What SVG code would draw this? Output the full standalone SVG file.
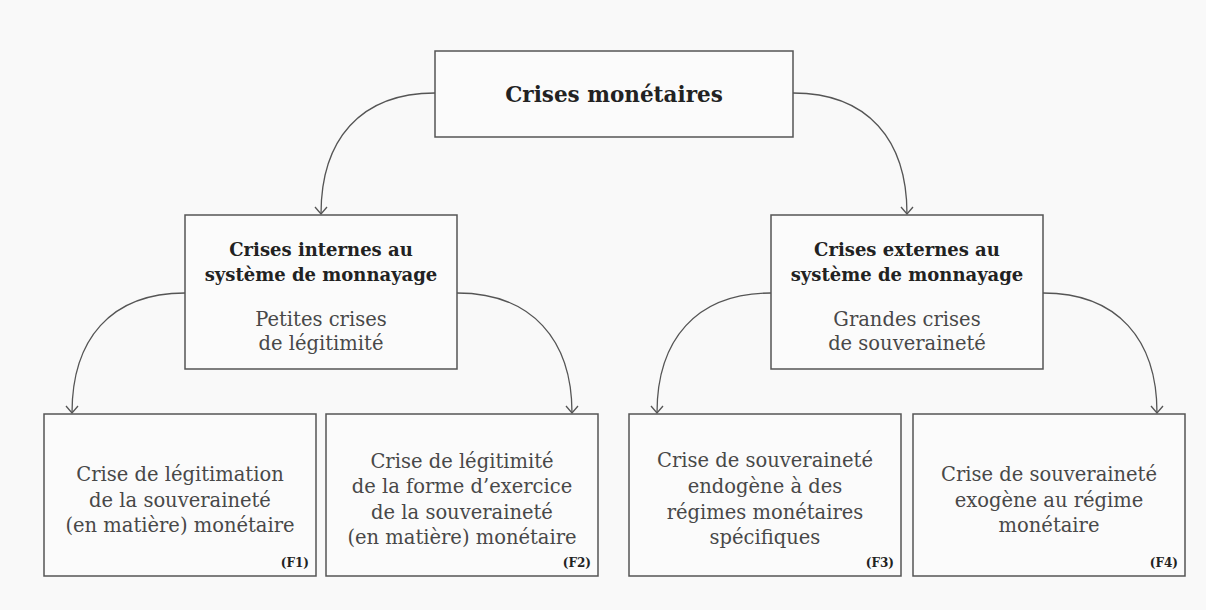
<svg xmlns="http://www.w3.org/2000/svg" width="1206" height="610" viewBox="0 0 1206 610">
<defs>
<style>
.box{fill:#fbfbfb;stroke:#555;stroke-width:1.5}
.t{font-family:"DejaVu Serif","Liberation Serif",serif;text-anchor:middle}
.b{font-weight:bold;fill:#222}
.l{fill:#484848;font-size:19.5px}
.h{font-size:19.5px}
.f{font-family:"DejaVu Serif","Liberation Serif",serif;font-weight:bold;font-size:12px;fill:#222;text-anchor:end}
.c{fill:none;stroke:#555;stroke-width:1.3}
</style>
<marker id="arr" viewBox="0 0 14 14" refX="13" refY="7" markerWidth="14" markerHeight="14" markerUnits="userSpaceOnUse" orient="auto">
<path d="M6,1 L13,7 L6,13" fill="none" stroke="#555" stroke-width="1.3"/>
</marker>
</defs>
<rect width="1206" height="610" fill="#f9f9f9"/>
<g id="connectors">
<path class="c" marker-end="url(#arr)" d="M435,93 C360,93 321,140 321,214"/>
<path class="c" marker-end="url(#arr)" d="M793,93 C868,93 907,140 907,214"/>
<path class="c" marker-end="url(#arr)" d="M185,293 C110,293 72,340 72,413"/>
<path class="c" marker-end="url(#arr)" d="M457,293 C532,293 572,340 572,413"/>
<path class="c" marker-end="url(#arr)" d="M771,293 C696,293 657,340 657,413"/>
<path class="c" marker-end="url(#arr)" d="M1043,293 C1118,293 1157,340 1157,413"/>
</g>
<g id="root">
<rect class="box" x="435" y="51" width="358" height="86"/>
<text class="t b" x="614" y="102" font-size="21.5">Crises monétaires</text>
</g>
<g id="internes">
<rect class="box" x="185" y="215" width="272" height="154"/>
<text class="t b" x="321" y="256" font-size="18">Crises internes au</text>
<text class="t b" x="321" y="281" font-size="18">système de monnayage</text>
<text class="t l" x="321" y="326">Petites crises</text>
<text class="t l" x="321" y="350">de légitimité</text>
</g>
<g id="externes">
<rect class="box" x="771" y="215" width="272" height="154"/>
<text class="t b" x="907" y="256" font-size="18">Crises externes au</text>
<text class="t b" x="907" y="281" font-size="18">système de monnayage</text>
<text class="t l" x="907" y="326">Grandes crises</text>
<text class="t l" x="907" y="350">de souveraineté</text>
</g>
<g id="f1">
<rect class="box" x="44" y="414" width="272" height="162"/>
<text class="t l h" x="180" y="481">Crise de légitimation</text>
<text class="t l h" x="180" y="507">de la souveraineté</text>
<text class="t l h" x="180" y="532">(en matière) monétaire</text>
<text class="f" x="309" y="567">(F1)</text>
</g>
<g id="f2">
<rect class="box" x="326" y="414" width="272" height="162"/>
<text class="t l h" x="462" y="468">Crise de légitimité</text>
<text class="t l h" x="462" y="493">de la forme d’exercice</text>
<text class="t l h" x="462" y="519">de la souveraineté</text>
<text class="t l h" x="462" y="544">(en matière) monétaire</text>
<text class="f" x="591" y="567">(F2)</text>
</g>
<g id="f3">
<rect class="box" x="629" y="414" width="272" height="162"/>
<text class="t l h" x="765" y="467">Crise de souveraineté</text>
<text class="t l h" x="765" y="493">endogène à des</text>
<text class="t l h" x="765" y="519">régimes monétaires</text>
<text class="t l h" x="765" y="544">spécifiques</text>
<text class="f" x="894" y="567">(F3)</text>
</g>
<g id="f4">
<rect class="box" x="913" y="414" width="272" height="162"/>
<text class="t l h" x="1049" y="481">Crise de souveraineté</text>
<text class="t l h" x="1049" y="507">exogène au régime</text>
<text class="t l h" x="1049" y="532">monétaire</text>
<text class="f" x="1178" y="567">(F4)</text>
</g>
</svg>
